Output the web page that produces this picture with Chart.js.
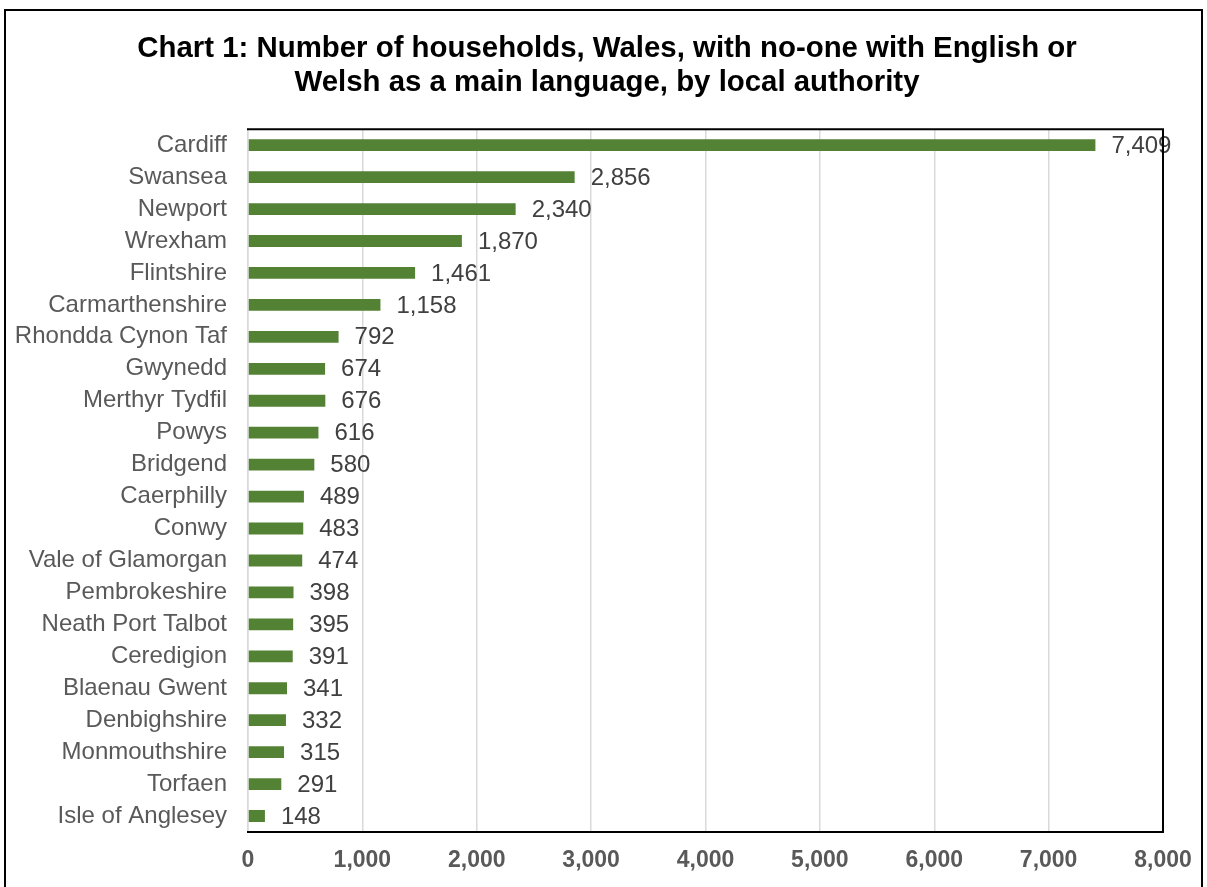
<!DOCTYPE html>
<html>
<head>
<meta charset="utf-8">
<script src="https://cdn.jsdelivr.net/npm/chart.js@4/dist/chart.umd.min.js"></script>
<style>
  html, body { margin: 0; padding: 0; background: #fff; overflow: hidden; }
  #wrap { position: relative; width: 1207px; height: 887px; }
  #frame { position: absolute; left: 4px; top: 9px; width: 1199px; height: 900px; border: 2px solid #000; box-sizing: border-box; pointer-events: none; }
  canvas { position: absolute; left: 0; top: 0; }
</style>
</head>
<body>
<div id="wrap">
  <canvas id="c" width="1207" height="887"></canvas>
  <div id="frame"></div>
</div>
<script>
const categories = ["Cardiff","Swansea","Newport","Wrexham","Flintshire","Carmarthenshire","Rhondda Cynon Taf","Gwynedd","Merthyr Tydfil","Powys","Bridgend","Caerphilly","Conwy","Vale of Glamorgan","Pembrokeshire","Neath Port Talbot","Ceredigion","Blaenau Gwent","Denbighshire","Monmouthshire","Torfaen","Isle of Anglesey"];
const households = [7409,2856,2340,1870,1461,1158,792,674,676,616,580,489,483,474,398,395,391,341,332,315,291,148];
const xTicks = [0,1000,2000,3000,4000,5000,6000,7000,8000];
const titleLines = ["Chart 1: Number of households, Wales, with no-one with English or","Welsh as a main language, by local authority"];

const FONT = "'Liberation Sans', Arial, sans-serif";

const labelPlugin = {
  id: 'valueLabels',
  afterDatasetsDraw(chart) {
    const ctx = chart.ctx;
    const meta = chart.getDatasetMeta(0);
    ctx.save();
    ctx.font = "24px " + FONT;
    ctx.fillStyle = "#404040";
    ctx.textAlign = "left";
    ctx.textBaseline = "middle";
    meta.data.forEach((bar, i) => {
      ctx.fillText(households[i].toLocaleString('en-US'), bar.x + 16, bar.y + 1);
    });
    ctx.restore();
  }
};

const framePlugin = {
  id: 'plotFrame',
  afterDraw(chart) {
    const a = chart.chartArea;
    const ctx = chart.ctx;
    ctx.save();
    ctx.strokeStyle = "#000";
    ctx.lineWidth = 2;
    ctx.beginPath();
    ctx.moveTo(a.left - 1, a.top);
    ctx.lineTo(a.right, a.top);
    ctx.lineTo(a.right, a.bottom);
    ctx.lineTo(a.left - 1, a.bottom);
    ctx.stroke();
    ctx.restore();
  }
};

new Chart(document.getElementById('c'), {
  type: 'bar',
  data: {
    labels: categories,
    datasets: [{
      data: households,
      backgroundColor: '#548235',
      borderWidth: 0,
      barPercentage: 0.37,
      categoryPercentage: 1.0
    }]
  },
  options: {
    indexAxis: 'y',
    responsive: false,
    animation: false,
    layout: { padding: { left: 7, right: 0, top: 0, bottom: 0 } },
    plugins: {
      legend: { display: false },
      tooltip: { enabled: false },
      title: {
        display: true,
        text: titleLines,
        color: '#000',
        font: { family: FONT, size: 29.4, weight: 'bold', lineHeight: 1.16 },
        padding: { top: 32, bottom: 29 }
      }
    },
    scales: {
      x: {
        min: 0, max: 8000,
        afterBuildTicks(scale) { scale.ticks = xTicks.map(v => ({ value: v })); },
        afterFit(scale) { scale.height = 55; },
        grid: { color: '#d9d9d9', lineWidth: 1.5, drawTicks: false },
        border: { display: false },
        ticks: {
          color: '#595959',
          padding: 15,
          font: { family: FONT, size: 23, weight: 'bold' },
          callback: (v) => Number(v).toLocaleString('en-US')
        }
      },
      y: {
        afterFit(scale) { scale.width = 241; },
        grid: { display: false, drawTicks: false },
        border: { display: true, color: '#d9d9d9', width: 1.5 },
        ticks: {
          color: '#595959',
          padding: 21,
          font: { family: FONT, size: 24 },
          autoSkip: false
        }
      },
      yRight: {
        type: 'linear',
        position: 'right',
        display: true,
        afterFit(scale) { scale.width = 44; },
        grid: { display: false, drawTicks: false },
        border: { display: false },
        ticks: { display: false }
      }
    }
  },
  plugins: [labelPlugin, framePlugin]
});
</script>
</body>
</html>
